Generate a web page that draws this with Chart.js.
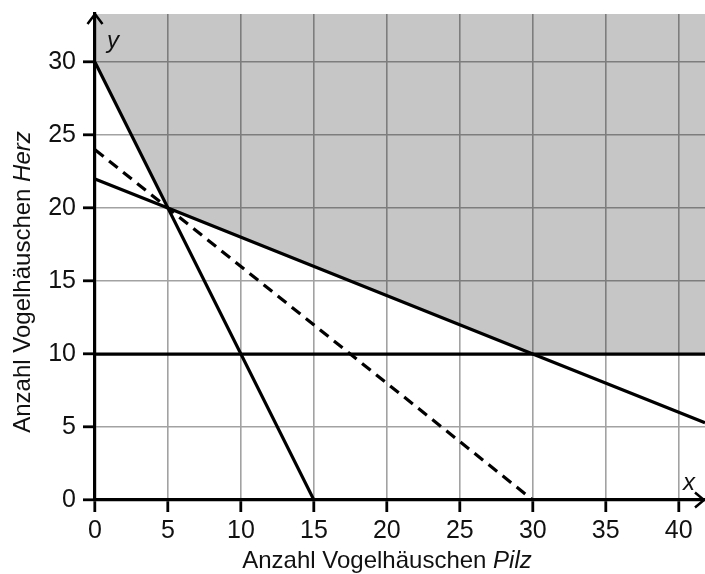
<!DOCTYPE html>
<html>
<head>
<meta charset="utf-8">
<script src="https://cdn.jsdelivr.net/npm/chart.js@4"></script>
<style>
  html, body { margin: 0; padding: 0; background: #fff; }
  canvas { display: block; }
</style>
</head>
<body>
<canvas id="lpChart" width="705" height="574"></canvas>
<script>
// axis ranges and tick labels
const xMax = 41.8;
const yMax = 33.3;
const xTicks = [0, 5, 10, 15, 20, 25, 30, 35, 40];
const yTicks = [0, 5, 10, 15, 20, 25, 30];

// boundary lines
const steepX = [0, 15];
const steepY = [30, 0];
const flatX = [0, 5, 30, 41.8];
const flatY = [22, 20, 10, 5.3];
const dashX = [0, 30];
const dashY = [24, 0];
const horizX = [0, 41.8];
const horizY = [10, 10];

// lower edge of the shaded feasible region
const regionX = [0, 5, 30, 41.8];
const regionY = [30, 20, 10, 10];

const toPts = (xs, ys) => xs.map((x, i) => ({ x: x, y: ys[i] }));

const FONT = '"Liberation Sans", Arial, sans-serif';

// draws "plain text + italic word" centred on cx
function mixedText(c, plain, ital, size, cx, by) {
  c.font = size + 'px ' + FONT;
  const w1 = c.measureText(plain).width;
  c.font = 'italic ' + size + 'px ' + FONT;
  const w2 = c.measureText(ital).width;
  const sx = cx - (w1 + w2) / 2;
  c.font = size + 'px ' + FONT;
  c.fillText(plain, sx, by);
  c.font = 'italic ' + size + 'px ' + FONT;
  c.fillText(ital, sx + w1, by);
}

// arrows, axis letters and the axis titles (mixed italic)
const decorations = {
  id: 'decorations',
  afterDraw(chart) {
    const c = chart.ctx;
    const a = chart.chartArea;
    const ox = chart.scales.x.getPixelForValue(0);
    const oy = chart.scales.y.getPixelForValue(0);
    c.save();
    c.strokeStyle = '#000';
    c.lineWidth = 2.5;
    // y arrow
    c.beginPath();
    c.moveTo(ox - 7.5, a.top + 10);
    c.lineTo(ox, a.top);
    c.lineTo(ox + 7.5, a.top + 10);
    c.stroke();
    // x arrow
    c.beginPath();
    c.moveTo(a.right - 10, oy - 7.5);
    c.lineTo(a.right - 1, oy);
    c.lineTo(a.right - 10, oy + 7.5);
    c.stroke();

    c.fillStyle = '#111';
    c.textBaseline = 'alphabetic';
    c.textAlign = 'left';
    c.font = 'italic 24px ' + FONT;
    c.fillText('y', 107, 48);
    c.fillText('x', 683, 490);

    mixedText(c, 'Anzahl Vogelhäuschen ', 'Pilz', 24, 387, 568);

    c.translate(30, 282);
    c.rotate(-Math.PI / 2);
    mixedText(c, 'Anzahl Vogelhäuschen ', 'Herz', 24, 0, 0);
    c.restore();
  }
};

const lineStyle = {
  borderColor: '#000',
  borderWidth: 3.2,
  pointRadius: 0,
  showLine: true,
  fill: false,
  tension: 0
};

const gridStyle = {
  color: '#a2a2a2',
  lineWidth: 1.6,
  tickColor: '#000',
  tickWidth: 2.8,
  tickLength: 12
};

new Chart(document.getElementById('lpChart'), {
  type: 'scatter',
  data: {
    datasets: [
      {
        data: toPts(regionX, regionY),
        showLine: true,
        borderWidth: 0,
        borderColor: 'rgba(0,0,0,0)',
        backgroundColor: 'rgba(0,0,0,0.224)',
        pointRadius: 0,
        fill: 'end'
      },
      Object.assign({ data: toPts(horizX, horizY) }, lineStyle),
      Object.assign({ data: toPts(dashX, dashY), borderDash: [11, 7] }, lineStyle),
      Object.assign({ data: toPts(flatX, flatY) }, lineStyle),
      Object.assign({ data: toPts(steepX, steepY) }, lineStyle)
    ]
  },
  options: {
    responsive: false,
    devicePixelRatio: 1,
    animation: false,
    layout: { padding: { top: 14, right: 0, left: 0, bottom: 0 } },
    plugins: {
      legend: { display: false },
      tooltip: { enabled: false }
    },
    scales: {
      x: {
        type: 'linear',
        min: 0,
        max: xMax,
        afterBuildTicks: s => { s.ticks = xTicks.map(v => ({ value: v })); },
        afterFit: s => { s.height = 74; s.paddingLeft = 0; s.paddingRight = 0; },
        grid: gridStyle,
        border: { color: '#000', width: 3.2 },
        ticks: {
          color: '#111',
          padding: 4,
          maxRotation: 0,
          font: { family: FONT, size: 25 }
        }
      },
      y: {
        type: 'linear',
        min: 0,
        max: yMax,
        afterBuildTicks: s => { s.ticks = yTicks.map(v => ({ value: v })); },
        afterFit: s => { s.width = 95; s.paddingTop = 0; s.paddingBottom = 0; },
        grid: gridStyle,
        border: { color: '#000', width: 3.2 },
        ticks: {
          color: '#111',
          padding: 7,
          font: { family: FONT, size: 25 }
        }
      }
    }
  },
  plugins: [decorations]
});
</script>
</body>
</html>
